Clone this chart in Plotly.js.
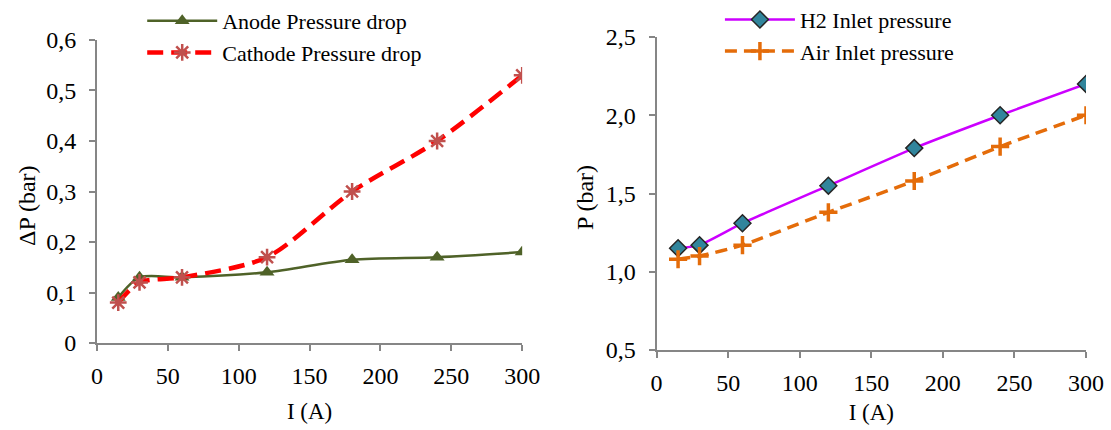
<!DOCTYPE html>
<html><head><meta charset="utf-8">
<script src="https://cdn.plot.ly/plotly-3.0.1.min.js"></script>
<style>html,body{margin:0;padding:0;background:#fff}</style>
</head><body><div id="chart" style="width:1111px;height:430px"></div>
<script>
const current = [15, 30, 60, 120, 180, 240, 300];
const anodeDrop = [0.09, 0.13, 0.13, 0.14, 0.165, 0.17, 0.18];
const cathodeDrop = [0.08, 0.12, 0.13, 0.17, 0.30, 0.40, 0.53];
const h2Inlet = [1.15, 1.17, 1.31, 1.55, 1.79, 2.0, 2.2];
const airInlet = [1.08, 1.10, 1.17, 1.38, 1.58, 1.80, 2.0];
const leftYTicks = [0, 0.1, 0.2, 0.3, 0.4, 0.5, 0.6];
const leftYLabels = ['0', '0,1', '0,2', '0,3', '0,4', '0,5', '0,6'];
const rightYTicks = [0.5, 1.0, 1.5, 2.0, 2.5];
const rightYLabels = ['0,5', '1,0', '1,5', '2,0', '2,5'];
const xTicks = [0, 50, 100, 150, 200, 250, 300];
const leftYTitle = 'ΔP (bar)';
const rightYTitle = 'P (bar)';
const xTitle = 'I (A)';

const FONT = 'Liberation Serif';
function tf(sz) { return {family: FONT, size: sz, color: '#000000'}; }
const traces = [
  {x: current, y: anodeDrop, name: 'Anode Pressure drop', mode: 'lines+markers', xaxis: 'x', yaxis: 'y', legend: 'legend',
   line: {color: '#4F6228', width: 2.5, shape: 'spline', smoothing: 0.8},
   marker: {symbol: 'triangle-up', size: 13, color: '#4F6228'}},
  {x: current, y: cathodeDrop, name: 'Cathode Pressure drop', mode: 'lines+markers', xaxis: 'x', yaxis: 'y', legend: 'legend',
   line: {color: '#FF0000', width: 4.5, dash: '16px,8px', shape: 'spline', smoothing: 0.8},
   marker: {symbol: 'asterisk', size: 14, color: '#C0504D', line: {color: '#C0504D', width: 2.5}}},
  {x: current, y: h2Inlet, name: 'H2 Inlet pressure', mode: 'lines+markers', xaxis: 'x2', yaxis: 'y2', legend: 'legend2',
   line: {color: '#CC00FF', width: 2.5, shape: 'spline', smoothing: 0.5},
   marker: {symbol: 'diamond', size: 13, color: '#31859C', line: {color: '#262626', width: 1.5}}},
  {x: current, y: airInlet, name: 'Air Inlet pressure', mode: 'lines+markers', xaxis: 'x2', yaxis: 'y2', legend: 'legend2',
   line: {color: '#E46C0A', width: 3.5, dash: '12px,7px', shape: 'spline', smoothing: 0.5},
   marker: {symbol: 'cross-thin-open', size: 13, color: '#E46C0A', line: {color: '#E46C0A', width: 3.5}}}
];

function ax(extra) {
  return Object.assign({
    showline: true, linecolor: '#868686', linewidth: 2, showgrid: false, zeroline: false,
    ticks: 'outside', tickcolor: '#868686', ticklen: 6, tickwidth: 2,
    tickfont: tf(24), automargin: false
  }, extra);
}
const layout = {
  width: 1111, height: 430, margin: {l: 0, r: 0, t: 0, b: 0, autoexpand: false},
  paper_bgcolor: '#fff', plot_bgcolor: '#fff',
  font: tf(22),
  showlegend: true,
  xaxis: ax({domain: [0.0873, 0.470], range: [0, 300], tickvals: xTicks, anchor: 'y', ticklabelstandoff: 4,
    title: {text: xTitle, font: tf(23), standoff: 15}}),
  yaxis: ax({domain: [0.2023, 0.907], range: [0, 0.6], tickvals: leftYTicks, ticktext: leftYLabels, anchor: 'x', ticklabelstandoff: 8}),
  xaxis2: ax({domain: [0.591, 0.9775], range: [0, 300], tickvals: xTicks, anchor: 'y2', ticklabelstandoff: 4,
    title: {text: xTitle, font: tf(23), standoff: 9}}),
  yaxis2: ax({domain: [0.186, 0.914], range: [0.5, 2.5], tickvals: rightYTicks, ticktext: rightYLabels, anchor: 'x2', ticklabelstandoff: 8}),
  annotations: [
    {text: leftYTitle, xref: 'paper', yref: 'paper', x: 0.0243, y: 0.5233, xanchor: 'center', yanchor: 'middle',
     textangle: -90, showarrow: false, font: tf(24)},
    {text: rightYTitle, xref: 'paper', yref: 'paper', x: 0.5266, y: 0.5395, xanchor: 'center', yanchor: 'middle',
     textangle: -90, showarrow: false, font: tf(24)}
  ],
  legend: {x: 0.128, y: 1.0, xanchor: 'left', yanchor: 'top', bgcolor: 'rgba(0,0,0,0)',
    font: tf(22), itemwidth: 70, tracegroupgap: 0},
  legend2: {x: 0.648, y: 1.003, xanchor: 'left', yanchor: 'top', bgcolor: 'rgba(0,0,0,0)',
    font: tf(22), itemwidth: 70, tracegroupgap: 0}
};
Plotly.newPlot('chart', traces, layout, {displayModeBar: false, staticPlot: true});
</script></body></html>
